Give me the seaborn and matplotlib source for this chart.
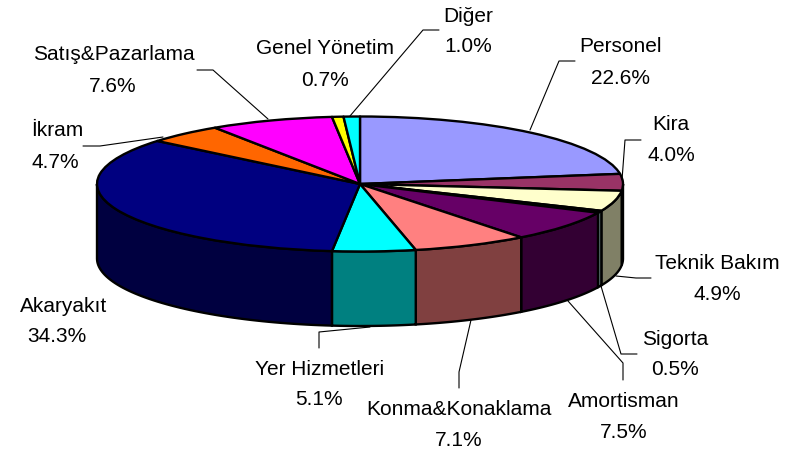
import numpy as np
import matplotlib
matplotlib.use("Agg")
import matplotlib.pyplot as plt
import seaborn as sns
from matplotlib.transforms import Affine2D

# Veriler
categories = ["Personel", "Kira", "Teknik Bakım", "Sigorta", "Amortisman",
              "Konma&Konaklama", "Yer Hizmetleri", "Akaryakıt", "İkram",
              "Satış&Pazarlama", "Genel Yönetim", "Diğer"]
values = [22.6, 4.0, 4.9, 0.5, 7.5, 7.1, 5.1, 34.3, 4.7, 7.6, 0.7, 1.0]
colors = ["#9999FF", "#993366", "#FFFFCC", "#CCFFFF", "#660066", "#FF8080",
          "#00FFFF", "#000080", "#FF6600", "#FF00FF", "#FFFF00", "#00FFFF"]

# Yerlesim (piksel)
W, H = 797, 452
cx, cy, rx, ry, depth = 360, 185, 263, 67.5, 74.5
name_pos = [(621, 47), (671, 125), (717, 264), (675, 340), (624, 402), (459, 410),
            (320, 370), (64, 307), (57, 131), (114, 55), (325, 49), (468, 16)]
pct_pos = [(621, 79), (671, 156), (717, 295), (675, 370), (624, 433), (459, 441),
           (319, 400), (57, 337), (55, 163), (113, 87), (325, 81), (468, 46)]
leaders = [
    [(530, 131), (559, 62), (575, 62)],
    [(622, 181), (625, 141), (641, 141)],
    [(616, 277), (636, 279), (651, 279)],
    [(601, 287), (621, 355), (637, 355)],
    [(568, 302), (623, 364), (623, 381)],
    [(471, 321), (459, 373), (459, 389)],
    [(370, 328), (319, 333), (319, 349)],
    [(163, 138), (100, 147), (83, 147)],
    [(268, 120), (213, 71), (197, 71)],
    [(350, 117), (423, 31), (439, 31)],
]

sns.set_theme(style="white")
plt.rcParams["font.family"] = ["Liberation Sans", "DejaVu Sans"]
palette = sns.color_palette(colors)

fig = plt.figure(figsize=(W / 100, H / 100), dpi=100)
ax = fig.add_axes([0, 0, 1, 1])
edge = dict(edgecolor="black", linewidth=1.7, joinstyle="round")

# Ust yuzey
ax.pie(values, colors=palette, startangle=90, counterclock=False, wedgeprops=edge)
ax.set_aspect("auto")
ax.set_xlim((0 - cx) / rx, (W - cx) / rx)
ax.set_ylim((cy - H) / ry, cy / ry)
ax.axis("off")

# Yan yuzeyler (yalnizca on yarim)
ends = np.cumsum(values) / np.sum(values) * 360
starts = ends - np.array(values) / np.sum(values) * 360
drop = depth / ry
for a, b, c in zip(starts, ends, palette):
    a, b = max(a, 90), min(b, 270)
    if b <= a:
        continue
    t = np.radians(np.linspace(a, b, 60))
    x, y = np.sin(t), np.cos(t)
    ax.fill(np.r_[x, x[::-1]], np.r_[y, y[::-1] - drop],
            color=np.array(c) * 0.5, ec="black", lw=1.7, zorder=0.5)

# Etiketler ve kilavuz cizgileri
to_px = Affine2D().scale(1 / W, -1 / H).translate(0, 1) + fig.transFigure
for name, v, p1, p2 in zip(categories, values, name_pos, pct_pos):
    ax.text(*p1, name, transform=to_px, ha="center", va="center", fontsize=15, color="black")
    ax.text(*p2, f"{v:.1f}%", transform=to_px, ha="center", va="center", fontsize=15, color="black")
for path in leaders:
    xs, ys = zip(*path)
    ax.plot(xs, ys, transform=to_px, color="black", lw=0.8, clip_on=False)

fig.savefig("out.png", dpi=100)
